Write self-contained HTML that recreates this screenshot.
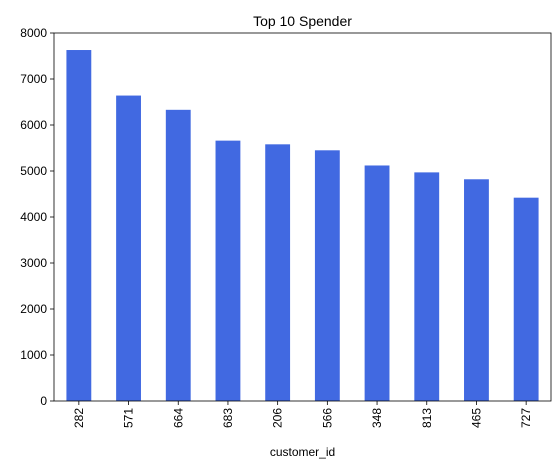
<!DOCTYPE html>
<html><head><meta charset="utf-8"><style>
body{margin:0;background:#fff;}
svg{display:block;font-family:"Liberation Sans","DejaVu Sans",sans-serif;}
</style></head><body>
<svg id="chart" width="560" height="467" viewBox="0 0 560 467"></svg>
<script>
const categories=["282","571","664","683","206","566","348","813","465","727"];
const values=[7630,6640,6330,5660,5580,5450,5120,4970,4820,4420];
const yTicks=[0,1000,2000,3000,4000,5000,6000,7000,8000];
const L=54,R=551,T=33,B=401,yMax=8000;
const svg=document.getElementById('chart');
const NS='http://www.w3.org/2000/svg';
function y(v){return B-(v/yMax)*(B-T);}
const step=(R-L)/categories.length;
function xc(i){return L+step*(i+0.5);}
function mk(tag,attrs,parent){const e=document.createElementNS(NS,tag);for(const k in attrs)e.setAttribute(k,attrs[k]);(parent||svg).appendChild(e);return e;}
categories.forEach((c,i)=>{
  const r=mk('rect',{x:xc(i)-step*0.25,y:y(values[i]),width:step*0.5,height:B-y(values[i]),fill:'#4169e1'});
  
  
  mk('line',{x1:xc(i),x2:xc(i),y1:B,y2:B+4,stroke:'#000','stroke-width':0.8});
  const t=mk('text',{x:0,y:0,'font-size':12,'text-anchor':'end',transform:`translate(${xc(i)+4},${B+7}) rotate(-90)`});
  t.textContent=c;
  
  
});
yTicks.forEach(v=>{
  mk('line',{x1:L-4,x2:L,y1:y(v),y2:y(v),stroke:'#000','stroke-width':0.8});
  const t=mk('text',{x:L-7,y:y(v)+4,'font-size':12,'text-anchor':'end'});
  t.textContent=v;
  
  
});
const frame=mk('rect',{x:L,y:T,width:R-L,height:B-T,fill:'none',stroke:'#000','stroke-width':0.8});


const title=mk('text',{x:(L+R)/2,y:T-7,'font-size':14,'text-anchor':'middle'});
title.textContent='Top 10 Spender';


const xl=mk('text',{x:(L+R)/2,y:456,'font-size':12,'text-anchor':'middle'});
xl.textContent='customer_id';


</script>
</body></html>
